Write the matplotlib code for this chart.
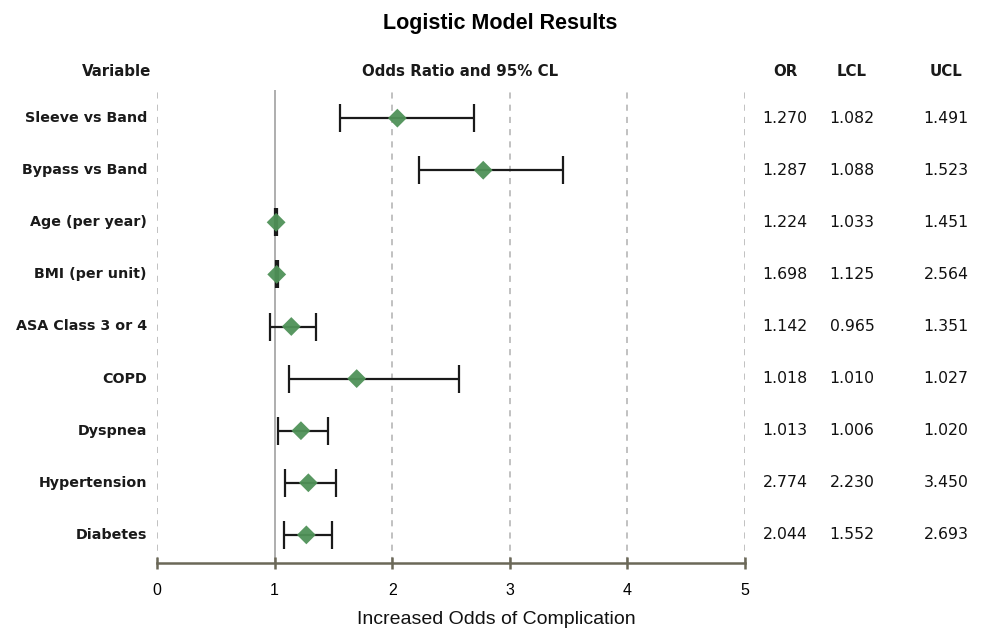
import matplotlib
matplotlib.use("Agg")
import matplotlib.pyplot as plt
import numpy as np

variables = ["Sleeve vs Band", "Bypass vs Band", "Age (per year)", "BMI (per unit)",
             "ASA Class 3 or 4", "COPD", "Dyspnea", "Hypertension", "Diabetes"]
odds_ratio = [2.044, 2.774, 1.013, 1.018, 1.142, 1.698, 1.224, 1.287, 1.270]
lcl = [1.552, 2.230, 1.006, 1.010, 0.965, 1.125, 1.033, 1.088, 1.082]
ucl = [2.693, 3.450, 1.020, 1.027, 1.351, 2.564, 1.451, 1.523, 1.491]
# table column as printed in the source (listed in reverse row order)
table_or = ["1.270", "1.287", "1.224", "1.698", "1.142", "1.018", "1.013", "2.774", "2.044"]
table_lcl = ["1.082", "1.088", "1.033", "1.125", "0.965", "1.010", "1.006", "2.230", "1.552"]
table_ucl = ["1.491", "1.523", "1.451", "2.564", "1.351", "1.027", "1.020", "3.450", "2.693"]
xticks = [0, 1, 2, 3, 4, 5]

W, H = 984, 629
fig = plt.figure(figsize=(W / 100, H / 100), dpi=100)
ax = fig.add_axes([157 / W, 1 - 563 / H, (745 - 157) / W, (563 - 90) / H])

y = np.arange(len(variables))
or_a = np.array(odds_ratio)
err = np.vstack([or_a - np.array(lcl), np.array(ucl) - or_a])

for xv in xticks:
    if xv == 1:
        ax.axvline(xv, color="#a8a8a8", lw=1.3, zorder=1)
    else:
        ax.axvline(xv, color="#b0b0b0", lw=1.1, ls=(0, (4, 4)), zorder=1)

ax.errorbar(or_a, y, xerr=err, fmt="none", ecolor="#1a1a1a", elinewidth=1.6,
            capsize=10, capthick=1.6, zorder=3)
ax.scatter(or_a, y, marker="D", s=92, color="#4f9258", alpha=0.95, zorder=4,
           edgecolors="none")

ax.set_xlim(0, 5)
ax.set_ylim(len(variables) - 0.46, -0.54)
ax.set_yticks([])
ax.set_xticks(xticks)
ax.set_xticklabels([str(t) for t in xticks], fontsize=11.5, family="Liberation Sans")
for s in ["top", "right", "left"]:
    ax.spines[s].set_visible(False)
ax.spines["bottom"].set_color("#6b6858")
ax.spines["bottom"].set_linewidth(1.8)
ax.tick_params(axis="x", direction="inout", length=9, width=1.8, color="#6b6858", pad=10)

fig.text(496 / W, 1 - 619 / H, "Increased Odds of Complication", ha="center", va="center",
         fontsize=14, family="Liberation Sans", color="#111111")

# variable labels
for yi, name in zip(y, variables):
    ax.text(-10 / 117.6, yi, name, ha="right", va="center", fontsize=10.3,
            fontweight="bold", family="DejaVu Sans", color="#1a1a1a",
            transform=ax.transData)

# table columns
col_x = [785, 852, 946]
for yi, a, b, c in zip(y, table_or, table_lcl, table_ucl):
    yy = ax.transData.transform((0, yi))[1] / H
    for cx, val in zip(col_x, (a, b, c)):
        fig.text(cx / W, yy, val, ha="center", va="center", fontsize=11.3,
                 family="DejaVu Sans", color="#111111")

# headers
hdr_y = 1 - 71 / H
hfont = dict(fontsize=10.8, family="DejaVu Sans", fontweight="bold",
             va="center", ha="center", color="#1a1a1a")
fig.text(117 / W, hdr_y, "Variable", **hfont)
fig.text(460 / W, hdr_y, "Odds Ratio and 95% CL", **hfont)
fig.text(785 / W, hdr_y, "OR", **hfont)
fig.text(852 / W, hdr_y, "LCL", **hfont)
fig.text(946 / W, hdr_y, "UCL", **hfont)

fig.text(500 / W, 1 - 24 / H, "Logistic Model Results", ha="center", va="center",
         fontsize=15.5, fontweight="bold", family="Liberation Sans")

fig.savefig("out.png", dpi=100, facecolor="white")
